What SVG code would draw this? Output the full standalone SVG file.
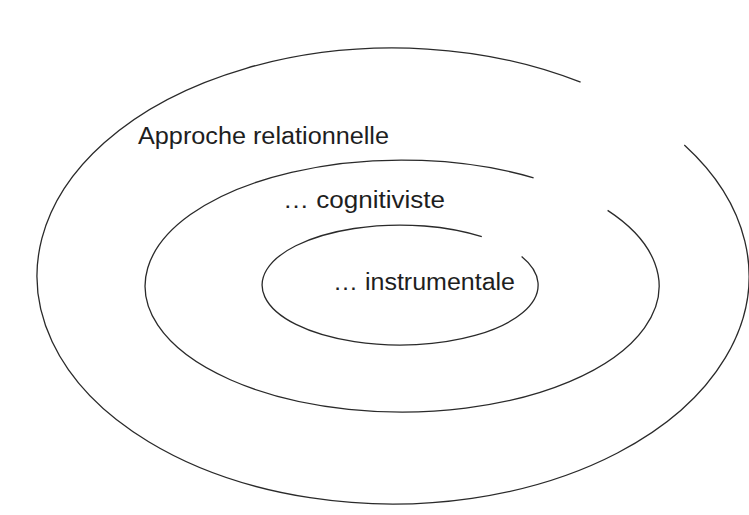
<svg xmlns="http://www.w3.org/2000/svg" width="749" height="515" viewBox="0 0 749 515">
<style>
.ring{fill:none;stroke:#2a2a2a;stroke-width:1.3}
.lbl{font-family:"Liberation Sans",Arial,sans-serif;font-size:23px;fill:#1e1e1e}
</style>
<rect width="749" height="515" fill="#ffffff"/>
<g id="connectors"></g>
<g id="outer">
<path class="ring" d="M684.3,144.9 A356,228 0 1 1 580.6,82.2"/>
<text class="lbl" x="138" y="144" textLength="251" lengthAdjust="spacingAndGlyphs">Approche relationnelle</text>
</g>
<g id="middle">
<path class="ring" d="M607.6,210.4 A257,126 0 1 1 533.6,177.8"/>
<text class="lbl" x="283" y="208" textLength="162" lengthAdjust="spacingAndGlyphs">… cognitiviste</text>
</g>
<g id="inner">
<path class="ring" d="M521.6,256.6 A138,60 0 1 1 481.8,236.7"/>
<text class="lbl" x="333" y="290" textLength="182" lengthAdjust="spacingAndGlyphs">… instrumentale</text>
</g>
</svg>
